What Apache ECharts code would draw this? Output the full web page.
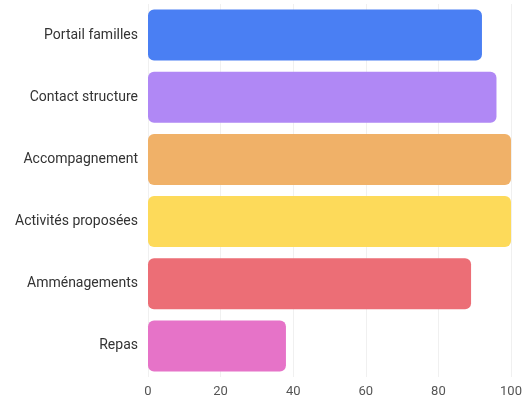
<!DOCTYPE html>
<html>
<head>
<meta charset="utf-8">
<script src="https://cdn.jsdelivr.net/npm/echarts@6/dist/echarts.min.js"></script>
<style>
	html, body {margin:0;padding:0;background:#fff;}
	#chart {width:525px;height:401px;}
</style>
</head>
<body>
<div id="chart"></div>
<script>
var categories = ['Portail familles','Contact structure','Accompagnement','Activités proposées','Amménagements','Repas'];
var values = [92, 96, 100, 100, 89, 38];
var colors = ['#4a7ff3','#b088f5','#f0b168','#fdda5a','#ec6e76','#e673c8'];
var xTicks = [0, 20, 40, 60, 80, 100];

var chart = echarts.init(document.getElementById('chart'));
var data = [];
values.forEach(function (v, i) {
	data.push({
		value: v,
		itemStyle: {color: colors[i], borderRadius: 6}
	});
});
var option = {
	backgroundColor:'#fff',
	animation:false,
	textStyle:{fontFamily:'Roboto'},
	grid:{left:148, right:14, top:4, bottom:24},
	xAxis:{
		type:'value',
		min:xTicks[0],
		max:xTicks[xTicks.length-1],
		interval:20,
		axisLine:{show:false},
		axisTick:{show:false},
		axisLabel:{color:'#555', fontSize:13, margin:8},
		splitLine:{lineStyle:{color:'#f0f0f0'}}
	},
	yAxis:{
		type:'category',
		inverse:true,
		data:categories,
		axisLine:{show:false},
		axisTick:{show:false},
		axisLabel:{color:'#333', fontSize:14, margin:10}
	},
	series:[{
		type:'bar',
		barCategoryGap:'18%',
		data:data
	}]
};
chart.setOption(option);
</script>
</body>
</html>
